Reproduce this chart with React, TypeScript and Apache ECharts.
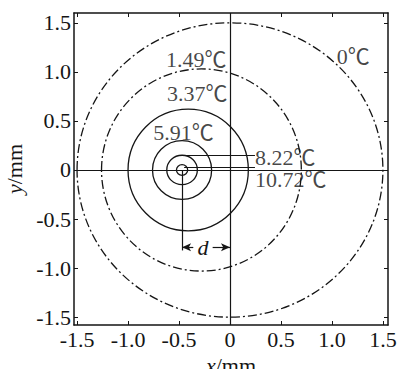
import React, { useEffect, useRef } from "react";
import * as echarts from "echarts";

// Isotherm data
const isoLabels = ["0℃", "1.49℃", "3.37℃", "5.91℃", "8.22℃", "10.72℃"];
const centerX = [0, -0.28, -0.41, -0.47, -0.47, -0.47];
const radiusX = [1.5, 0.98, 0.59, 0.29, 0.15, 0.055];
const radiusY = [1.5, 1.03, 0.62, 0.3, 0.15, 0.055];
const dashedFlag = [1, 1, 0, 0, 0, 0];

// Label anchor points (data coordinates)
const labelX = [1.21, -0.33, -0.32, -0.457, 0.245, 0.245];
const labelY = [1.16, 1.13, 0.78, 0.38, 0.13, -0.1];

// Tick labels
const xTicks = [-1.5, -1.0, -0.5, 0, 0.5, 1.0, 1.5];
const yTicks = [-1.5, -1.0, -0.5, 0, 0.5, 1.0, 1.5];

// Annotation geometry (data coordinates)
const heatCenter = -0.47;
const leader822Y = 0.147;
const leader1072Y = 0.03;
const leaderEndX = 0.245;
const dArrowY = -0.787;
const dLineBottom = -0.82;

const SERIF = "Times New Roman, Liberation Serif, Noto Sans CJK SC, serif";
const fmt = (v: number) => (v === 0 ? "0" : v.toFixed(1));

export default function App() {
  const ref = useRef<HTMLDivElement>(null);
  useEffect(() => {
    if (!ref.current) return;
    const chart = echarts.init(ref.current, undefined, { renderer: "svg" });
    const ink = "#151515";
    const axisCommon = {
      type: "value" as const,
      splitLine: { show: false },
    };
    const xRange = { min: -1.53, max: 1.55 };
    const yRange = { min: -1.58, max: 1.6 };
    const labelLine = { color: ink, width: 1.2, type: "solid" as const };

    const labelData = isoLabels.map((t, i) => {
      const left = i >= 4;
      return {
        value: [labelX[i], labelY[i]],
        name: t,
        label: left
          ? { position: "right", distance: 0 }
          : { position: "inside" },
      };
    });

    chart.setOption({
      animation: false,
      backgroundColor: "#ffffff",
      grid: { left: 74, right: 9, top: 13, bottom: 44, outerBoundsMode: "none" },
      xAxis: [
        {
          ...axisCommon,
          ...xRange,
          position: "bottom",
          axisLine: { show: true, onZero: false, lineStyle: { color: ink, width: 1.5 } },
          axisTick: { show: true, inside: true, length: 4, customValues: xTicks, lineStyle: { color: ink } },
          axisLabel: {
            customValues: xTicks,
            formatter: fmt,
            color: ink,
            fontFamily: SERIF,
            fontSize: 22,
            margin: 3,
          },
          name: "{i|x}/mm",
          nameLocation: "middle",
          nameGap: 25,
          nameTextStyle: {
            color: ink,
            fontFamily: SERIF,
            fontSize: 22,
            rich: { i: { fontStyle: "italic", fontFamily: SERIF, fontSize: 22, color: ink } },
          },
        },
        {
          ...axisCommon,
          ...xRange,
          position: "top",
          axisLine: { show: true, onZero: false, lineStyle: { color: ink, width: 1.5 } },
          axisTick: { show: true, inside: true, length: 4, customValues: xTicks, lineStyle: { color: ink } },
          axisLabel: { show: false },
        },
      ],
      yAxis: [
        {
          ...axisCommon,
          ...yRange,
          position: "left",
          axisLine: { show: true, onZero: false, lineStyle: { color: ink, width: 1.5 } },
          axisTick: { show: true, inside: true, length: 4, customValues: yTicks, lineStyle: { color: ink } },
          axisLabel: {
            customValues: yTicks,
            formatter: fmt,
            color: ink,
            fontFamily: SERIF,
            fontSize: 22,
            margin: 3,
          },
          name: "{i|y}/mm",
          nameLocation: "middle",
          nameRotate: 90,
          nameGap: 40,
          nameTextStyle: {
            color: ink,
            fontFamily: SERIF,
            fontSize: 22,
            rich: { i: { fontStyle: "italic", fontFamily: SERIF, fontSize: 22, color: ink } },
          },
        },
        {
          ...axisCommon,
          ...yRange,
          position: "right",
          axisLine: { show: true, onZero: false, lineStyle: { color: ink, width: 1.5 } },
          axisTick: { show: true, inside: true, length: 4, customValues: yTicks, lineStyle: { color: ink } },
          axisLabel: { show: false },
        },
      ],
      series: [
        {
          type: "custom",
          clip: false,
          silent: true,
          data: centerX.map((cx, i) => [cx, radiusX[i], radiusY[i], dashedFlag[i]]),
          renderItem: (_params: any, api: any) => {
            const c = api.coord([api.value(0), 0]);
            const s = api.size([api.value(1), api.value(2)]);
            const dashed = api.value(3) === 1;
            return {
              type: "ellipse",
              shape: { cx: c[0], cy: c[1], rx: s[0], ry: s[1] },
              style: {
                fill: "none",
                stroke: ink,
                lineWidth: 1.3,
                lineDash: dashed ? [9, 3, 2, 3] : null,
              },
            };
          },
        },
        {
          type: "scatter",
          symbolSize: 0,
          silent: true,
          data: labelData,
          label: {
            show: true,
            formatter: (p: any) => p.name,
            color: ink,
            fontFamily: SERIF,
            fontSize: 22,
          },
          markLine: {
            silent: true,
            symbol: ["none", "none"],
            label: { show: false },
            lineStyle: labelLine,
            data: [
              [{ coord: [0, yRange.min] }, { coord: [0, yRange.max] }],
              [{ coord: [xRange.min, 0] }, { coord: [xRange.max, 0] }],
              [{ coord: [heatCenter, leader822Y] }, { coord: [leaderEndX, leader822Y] }],
              [{ coord: [heatCenter + 0.02, leader1072Y] }, { coord: [leaderEndX, leader1072Y] }],
              [{ coord: [heatCenter, 0] }, { coord: [heatCenter, dLineBottom] }],
              [
                { coord: [-0.36, dArrowY], symbol: "none" },
                { coord: [heatCenter, dArrowY], symbol: "arrow", symbolSize: [6, 9] },
              ],
              [
                { coord: [-0.17, dArrowY], symbol: "none" },
                { coord: [0, dArrowY], symbol: "arrow", symbolSize: [6, 9] },
              ],
            ],
          },
          markPoint: {
            silent: true,
            symbol: "circle",
            symbolSize: 0,
            data: [
              {
                coord: [-0.265, dArrowY],
                label: {
                  show: true,
                  position: "inside",
                  formatter: "d",
                  fontStyle: "italic",
                  fontFamily: SERIF,
                  fontSize: 22,
                  color: ink,
                },
              },
            ],
          },
        },
      ],
    });
    return () => chart.dispose();
  }, []);
  return (
    <div
      ref={ref}
      style={{ position: "fixed", left: 0, top: 0, width: 397, height: 369, background: "#fff" }}
    />
  );
}
